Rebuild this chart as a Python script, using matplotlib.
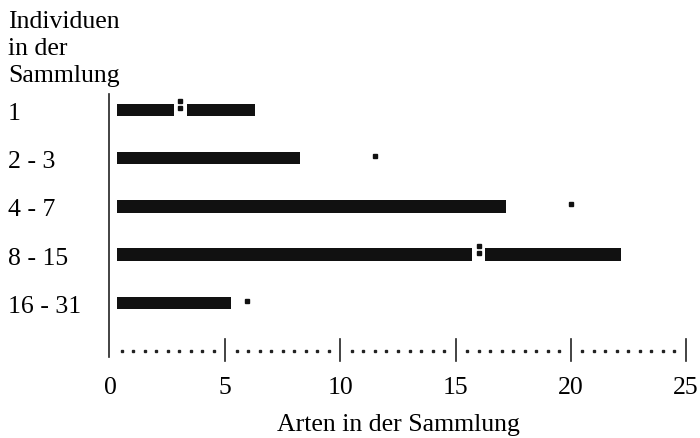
import matplotlib.pyplot as plt
import numpy as np

plt.rcParams['font.family'] = ['Liberation Serif', 'DejaVu Serif']

# Klassen (Individuen in der Sammlung)
klassen = ["1", "2 - 3", "4 - 7", "8 - 15", "16 - 31"]
bar_start = [0.3, 0.3, 0.3, 0.3, 0.3]
bar_end = [6.3, 8.25, 17.2, 22.2, 5.25]
# Lücke mit Doppelpunkt (None = keine)
luecke = [3.05, None, None, 16.0, None]
# einzelner Punkt rechts vom Balken
punkt = [None, 11.5, 20.0, None, 5.95]
xticks = [0, 5, 10, 15, 20, 25]
titel = ["Individuen", "in der", "Sammlung"]

W, H = 700, 439
fig = plt.figure(figsize=(7, 4.39), dpi=100)
ax = fig.add_axes([0, 0, 1, 1])
# pixel mapping: x=0 -> 110px, 1 unit = 23.04px ; row i -> 111 + 48.2*i px
sx, x0 = 23.04, 110
sy, y0 = 48.2, 111
ax.set_xlim(-x0 / sx, (W - x0) / sx)
ax.set_ylim((H - y0) / sy, -y0 / sy)
ax.axis('off')

def py(p):
    return (p - y0) / sy

bh = 12.5 / sy
gap = 0.55
fs = 18.5
for i in range(len(klassen)):
    if luecke[i] is None:
        ax.barh(i, bar_end[i] - bar_start[i], left=bar_start[i], height=bh, color='#111111')
    else:
        g = luecke[i]
        ax.barh(i, g - gap / 2 - bar_start[i], left=bar_start[i], height=bh, color='#111111')
        ax.barh(i, bar_end[i] - (g + gap / 2), left=g + gap / 2, height=bh, color='#111111')
        ax.plot([g, g], [i - 9 / sy, i - 2 / sy], 's', color='#111111', ms=2.5)
    if punkt[i] is not None:
        ax.plot(punkt[i], i - 2 / sy, 's', color='#111111', ms=2.5)
    ax.text(-102 / sx, i + 3 / sy, klassen[i], fontsize=fs, ha='left', va='center')

# linke Achse
ax.plot([-1 / sx, -1 / sx], [py(95), py(358)], color='#222222', lw=1.2)

# untere gepunktete Achse
ya = 5
for t in xticks[1:]:
    ax.plot([t, t], [ya - 12 / sy, ya + 10 / sy], color='#222222', lw=1.2)
dots = [t + k * 0.5 for t in xticks[:-1] for k in range(1, 10)]
ax.plot(dots, [ya] * len(dots), 's', color='#222222', ms=2)

for t in xticks:
    ax.text(t, py(388), str(t), fontsize=fs, ha='center', va='center')
ax.text(12.5, py(425), "Arten in der Sammlung", fontsize=fs, ha='center', va='center')
for k, zeile in enumerate(titel):
    ax.text(-102 / sx, py(28 + 27 * k), zeile, fontsize=fs, ha='left', va='baseline')

fig.savefig('out.png', dpi=100)
